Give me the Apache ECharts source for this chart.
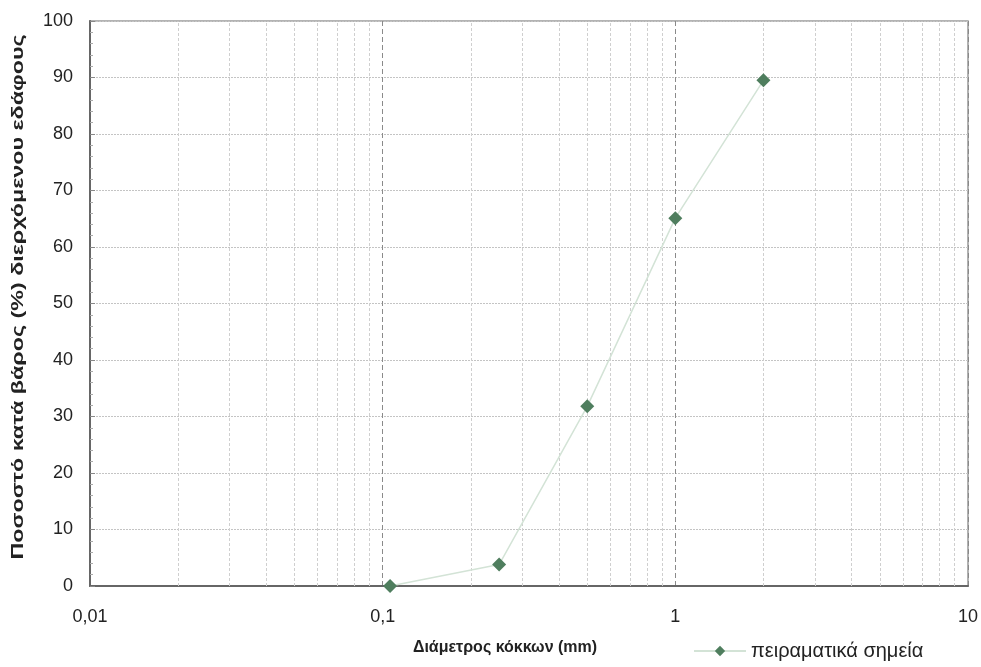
<!DOCTYPE html>
<html>
<head>
<meta charset="utf-8">
<script src="https://cdn.jsdelivr.net/npm/echarts@6/dist/echarts.min.js"></script>
<style>html,body{margin:0;padding:0;background:#fff}#c{width:981px;height:667px}</style>
</head>
<body>
<div id="c"></div>
<script>
// Data
var diameters = [0.106, 0.25, 0.5, 1.0, 2.0];
var passing = [0, 3.8, 31.8, 65.1, 89.5];
var seriesName = 'πειραματικά σημεία';
var xAxisTitle = 'Διάμετρος κόκκων (mm)';
var yAxisTitle = 'Ποσοστό κατά βάρος (%) διερχόμενου εδάφους';
var minorXLines = [0.02,0.03,0.04,0.05,0.06,0.07,0.08,0.09,
                   0.2,0.3,0.4,0.5,0.6,0.7,0.8,0.9,
                   2,3,4,5,6,7,8,9];

var FONT = 'Liberation Sans, Arial, sans-serif';
var chart = echarts.init(document.getElementById('c'));
var pts = diameters.map(function(d,i){return [d, passing[i]];});
chart.setOption({
  animation:false,
  backgroundColor:'#fff',
  textStyle:{fontFamily:FONT},
  grid:{left:90,right:12,top:21,bottom:81,show:true,borderColor:'#9a9a9a',borderWidth:1.5},
  legend:{
    left:693, top:641, padding:0, itemWidth:52, itemHeight:13, itemGap:10,
    textStyle:{fontSize:20,color:'#222'},
    data:[seriesName]
  },
  graphic:[{
    type:'text',
    x:18, y:297,
    rotation:Math.PI/2,
    scaleX:1.37,
    style:{
      text:yAxisTitle,
      font:'bold 17px ' + FONT,
      fill:'#222',
      align:'center',
      verticalAlign:'middle'
    }
  }],
  xAxis:{
    type:'log', logBase:10, min:0.01, max:10,
    name:xAxisTitle, nameLocation:'middle', nameGap:54,
    nameTextStyle:{fontSize:16,fontWeight:'bold',color:'#222',padding:[0,48,0,0]},
    axisLine:{show:true,lineStyle:{color:'#666',width:2}},
    axisTick:{show:false},
    axisLabel:{fontSize:18,color:'#222',margin:22,
      formatter:function(v){return String(+v.toPrecision(6)).replace('.',',');}},
    splitLine:{show:true,lineStyle:{color:'#8a8a8a',type:[5,3],width:1}},
    minorTick:{show:false}
  },
  yAxis:{
    type:'value', min:0, max:100, interval:10,
    axisLine:{show:true,lineStyle:{color:'#666',width:2}},
    axisTick:{show:true,inside:true,length:5,lineStyle:{color:'#888'}},
    axisLabel:{fontSize:18,color:'#222',margin:17},
    splitLine:{show:true,lineStyle:{color:'#c4c4c4',type:[2,1],width:1}},
    minorTick:{show:true,splitNumber:5,length:3,lineStyle:{color:'#aaa'}},
    minorSplitLine:{show:false}
  },
  series:[{
    name:seriesName,
    type:'line',
    data:pts,
    symbol:'diamond',
    symbolSize:14,
    itemStyle:{color:'#4f7e5e'},
    lineStyle:{color:'#d3e3d6',width:1.5},
    z:5,
    markLine:{
      silent:true,
      symbol:['none','none'],
      label:{show:false},
      lineStyle:{color:'#cfcfcf',type:[3,2],width:1},
      data:minorXLines.map(function(v){return {xAxis:v};}),
      z:1
    }
  }]
});
</script>
</body>
</html>
